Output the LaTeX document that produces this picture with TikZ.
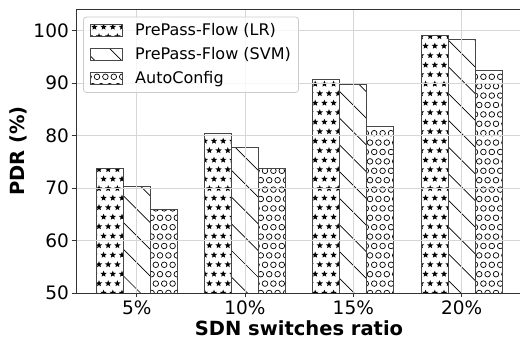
\documentclass[tikz,border=0pt]{standalone}
\usepackage{fontspec}
\setmainfont{DejaVu Sans}
\newcommand\hstars[4]{%
 \begin{scope}
 \clip (#1,#2) rectangle (#3,#4);
 \pgfmathtruncatemacro\ja{floor((#1-76)/9.2)-1}%
 \pgfmathtruncatemacro\jb{ceil((#3-76)/9.2)+1}%
 \pgfmathtruncatemacro\ka{floor((293-#4)/9.5)-1}%
 \pgfmathtruncatemacro\kb{ceil((293-#2)/9.5)+1}%
 \foreach \k in {\ka,...,\kb}{
   \foreach \j in {\ja,...,\jb}{
     \pgfmathsetmacro\xx{76+\j*9.2+4.6*mod(abs(\k),2)}
     \pgfmathsetmacro\yy{293-\k*9.5}
     \fill (\xx,\yy) +(-90:3.3) -- +(-54:1.45) -- +(-18:3.3) -- +(18:1.45) -- +(54:3.3) -- +(90:1.45) -- +(126:3.3) -- +(162:1.45) -- +(198:3.3) -- +(234:1.45) -- cycle;
   }
 }
 \end{scope}}
\newcommand\hcircles[4]{%
 \begin{scope}
 \clip (#1,#2) rectangle (#3,#4);
 \pgfmathtruncatemacro\ja{floor((#1-76)/8.4)-1}%
 \pgfmathtruncatemacro\jb{ceil((#3-76)/8.4)+1}%
 \pgfmathtruncatemacro\ka{floor((293-#4)/9.4)-1}%
 \pgfmathtruncatemacro\kb{ceil((293-#2)/9.4)+1}%
 \foreach \k in {\ka,...,\kb}{
   \foreach \j in {\ja,...,\jb}{
     \pgfmathsetmacro\xx{76+\j*8.4+4.2*mod(abs(\k),2)}
     \pgfmathsetmacro\yy{293-\k*9.4}
     \draw[line width=0.7pt] (\xx,\yy) circle[radius=2.8];
   }
 }
 \end{scope}}
\newcommand\hlines[4]{%
 \begin{scope}
 \clip (#1,#2) rectangle (#3,#4);
 \pgfmathtruncatemacro\ma{floor((#2-#3-19)/26.7)-1}%
 \pgfmathtruncatemacro\mb{ceil((#4-#1-19)/26.7)+1}%
 \foreach \m in {\ma,...,\mb}{
   \pgfmathsetmacro\dd{19+\m*26.7}
   \draw[line width=0.7pt] ({#1-5},{#1-5+\dd}) -- ({#3+5},{#3+5+\dd});
 }
 \end{scope}}
\newcommand\bargroup[4]{%
 \pgfmathsetmacro\ya{293-(#2-50)*5.25}%
 \pgfmathsetmacro\yb{293-(#3-50)*5.25}%
 \pgfmathsetmacro\yc{293-(#4-50)*5.25}%
 \pgfmathsetmacro\xa{#1-40.62}%
 \pgfmathsetmacro\xb{#1-13.54}%
 \pgfmathsetmacro\xc{#1+13.54}%
 \pgfmathsetmacro\xd{#1+40.62}%
 \hstars{\xa}{\ya}{\xb}{293}%
 \hlines{\xb}{\yb}{\xc}{293}%
 \hcircles{\xc}{\yc}{\xd}{293}%
 \draw[baredge] (\xa,\ya) rectangle (\xb,293);
 \draw[baredge] (\xb,\yb) rectangle (\xc,293);
 \draw[baredge] (\xc,\yc) rectangle (\xd,293);
}
\begin{document}
\begin{tikzpicture}[x=1pt,y=-1pt,
  baredge/.style={draw=black!72, line width=0.9pt},
  gridline/.style={draw=black!16, line width=0.8pt},
  spine/.style={draw=black!80, line width=0.9pt},
  tickmark/.style={draw=black!80, line width=0.8pt},
  ticklabel/.style={font=\fontsize{18.5}{20}\selectfont, inner sep=0pt},
  axlabel/.style={font=\fontsize{19.5}{22}\selectfont\bfseries, inner sep=0pt},
  legtext/.style={font=\fontsize{16}{18}\selectfont, inner sep=0pt}]
\useasboundingbox (0,0) rectangle (520,344);
\fill[white] (0,0) rectangle (520,344);
% bars
\bargroup{136.7}{73.7}{70.3}{65.9}
\bargroup{245.0}{80.4}{77.7}{73.7}
\bargroup{353.3}{90.6}{89.8}{81.7}
\bargroup{461.7}{99.0}{98.2}{92.3}
% grid
\foreach \v in {60,70,80,90,100}{
  \draw[gridline] (76,{293-(\v-50)*5.25}) -- (520,{293-(\v-50)*5.25});
}
\foreach \c in {136.7,245.0,353.3,461.7}{
  \draw[gridline] (\c,9.5) -- (\c,293);
}
% spines
\draw[spine] (76,293) -- (76,9.5) -- (520,9.5);
\draw[spine] (76,293) -- (520,293);
% y ticks
\foreach \v in {50,60,70,80,90,100}{
  \draw[tickmark] (71.5,{293-(\v-50)*5.25}) -- (76,{293-(\v-50)*5.25});
  \node[ticklabel, anchor=east] (yt\v) at (69,{293-(\v-50)*5.25}) {\v};
}
% x ticks
\foreach \c/\t/\n in {136.7/5/a,245.0/10/b,353.3/15/c,461.7/20/d}{
  \draw[tickmark] (\c,293) -- (\c,297.5);
  \node[ticklabel, anchor=base] (xt\n) at (\c,315) {\t\%};
}
\node[axlabel, anchor=base] (xlab) at (299,335.5) {SDN switches ratio};
\node[axlabel, rotate=90] (ylab) at (18,151) {PDR (\%)};
% legend
\draw[black!20, fill=white, fill opacity=0.8, rounded corners=3pt, line width=0.8pt] (83.5,17) rectangle (298.5,92.5);
\hstars{90}{24.9}{122}{36.1}
\draw[baredge] (90,24.9) rectangle (122,36.1);
\hlines{90}{48.9}{122}{60.1}
\draw[baredge] (90,48.9) rectangle (122,60.1);
\hcircles{90}{72.9}{122}{84.1}
\draw[baredge] (90,72.9) rectangle (122,84.1);
\node[legtext, anchor=base west] (l1) at (135,36) {PrePass-Flow (LR)};
\node[legtext, anchor=base west] (l2) at (135,60) {PrePass-Flow (SVM)};
\node[legtext, anchor=base west] (l3) at (135,84) {AutoConfig};
\end{tikzpicture}
\end{document}
